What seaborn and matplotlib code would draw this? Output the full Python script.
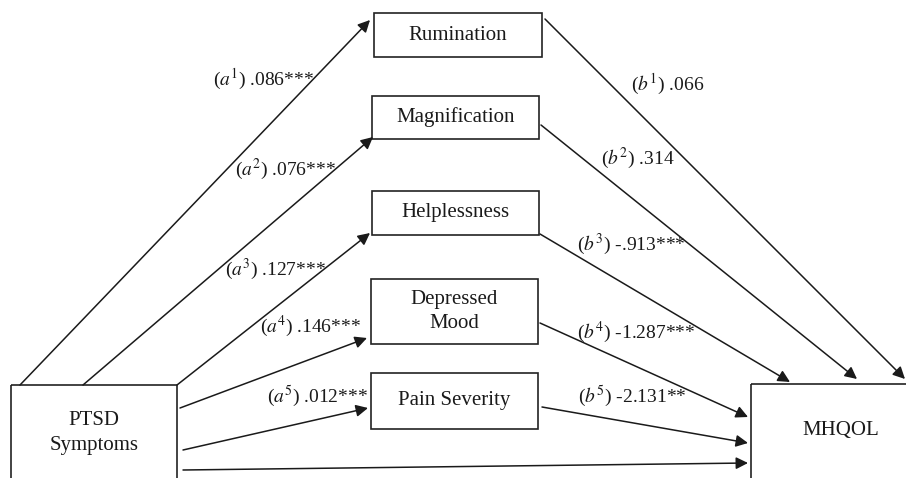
import matplotlib.pyplot as plt
import seaborn as sns
from matplotlib.patches import Rectangle

# node labels
mediators = ["Rumination", "Magnification", "Helplessness", "Depressed\nMood", "Pain Severity"]
predictor = "PTSD\nSymptoms"
outcome = "MHQOL"

# path coefficients
a_coef = [".086***", ".076***", ".127***", ".146***", ".012***"]
b_coef = [".066", ".314", "-.913***", "-1.287***", "-2.131**"]

sns.set_theme(style="white")
plt.rcParams['font.family'] = ['Liberation Serif', 'DejaVu Serif']
plt.rcParams['mathtext.fontset'] = 'stix'

fig = plt.figure(figsize=(9.06, 4.78), dpi=100)
ax = fig.add_axes([0, 0, 1, 1])
ax.set_xlim(0, 906)
ax.set_ylim(478, 0)
ax.axis('off')

# layout (pixel coords, y down)
med_boxes = [(374, 13, 542, 57), (372, 96, 539, 139), (372, 191, 539, 235),
             (371, 279, 538, 344), (371, 373, 538, 429)]
pred_box = (11, 385, 177, 500)
out_box = (751, 384, 930, 500)


def draw_box(b, text, ty=None):
    x0, y0, x1, y1 = b
    ax.add_patch(Rectangle((x0, y0), x1 - x0, y1 - y0, fill=False,
                           edgecolor='#222222', linewidth=1.2))
    if ty is None:
        ty = (y0 + y1) / 2
    ax.text((x0 + x1) / 2, ty, text, ha='center', va='center',
            fontsize=15, linespacing=1.4, color='#1a1a1a')


for b, name in zip(med_boxes, mediators):
    draw_box(b, name)
draw_box(pred_box, predictor, ty=433)
draw_box(out_box, outcome, ty=430)


def arrow(p0, p1):
    ax.annotate("", xy=p1, xytext=p0,
                arrowprops=dict(arrowstyle='-|>', color='#1a1a1a', lw=1.1,
                                mutation_scale=18, shrinkA=0, shrinkB=0))


a_paths = [((20, 385), (370, 20)), ((83, 385), (373, 137)), ((177, 385), (370, 233)),
           ((180, 408), (367, 338)), ((183, 450), (368, 408))]
b_paths = [((545, 19), (905, 379)), ((541, 125), (857, 379)), ((540, 234), (790, 382)),
           ((540, 323), (748, 417)), ((542, 407), (748, 443))]
for p0, p1 in a_paths + b_paths:
    arrow(p0, p1)
arrow((183, 470), (748, 463))

a_pos = [(264, 79), (286, 169), (276, 269), (311, 326), (318, 396)]
b_pos = [(668, 84), (638, 158), (631, 244), (636, 332), (632, 396)]
for i, (c, (x, y)) in enumerate(zip(a_coef, a_pos)):
    ax.text(x, y, r"($a^{%d}$) %s" % (i + 1, c), ha='center', va='center',
            fontsize=14, color='#1a1a1a')
for i, (c, (x, y)) in enumerate(zip(b_coef, b_pos)):
    ax.text(x, y, r"($b^{%d}$) %s" % (i + 1, c), ha='center', va='center',
            fontsize=14, color='#1a1a1a')

fig.savefig("out.png", dpi=100)
